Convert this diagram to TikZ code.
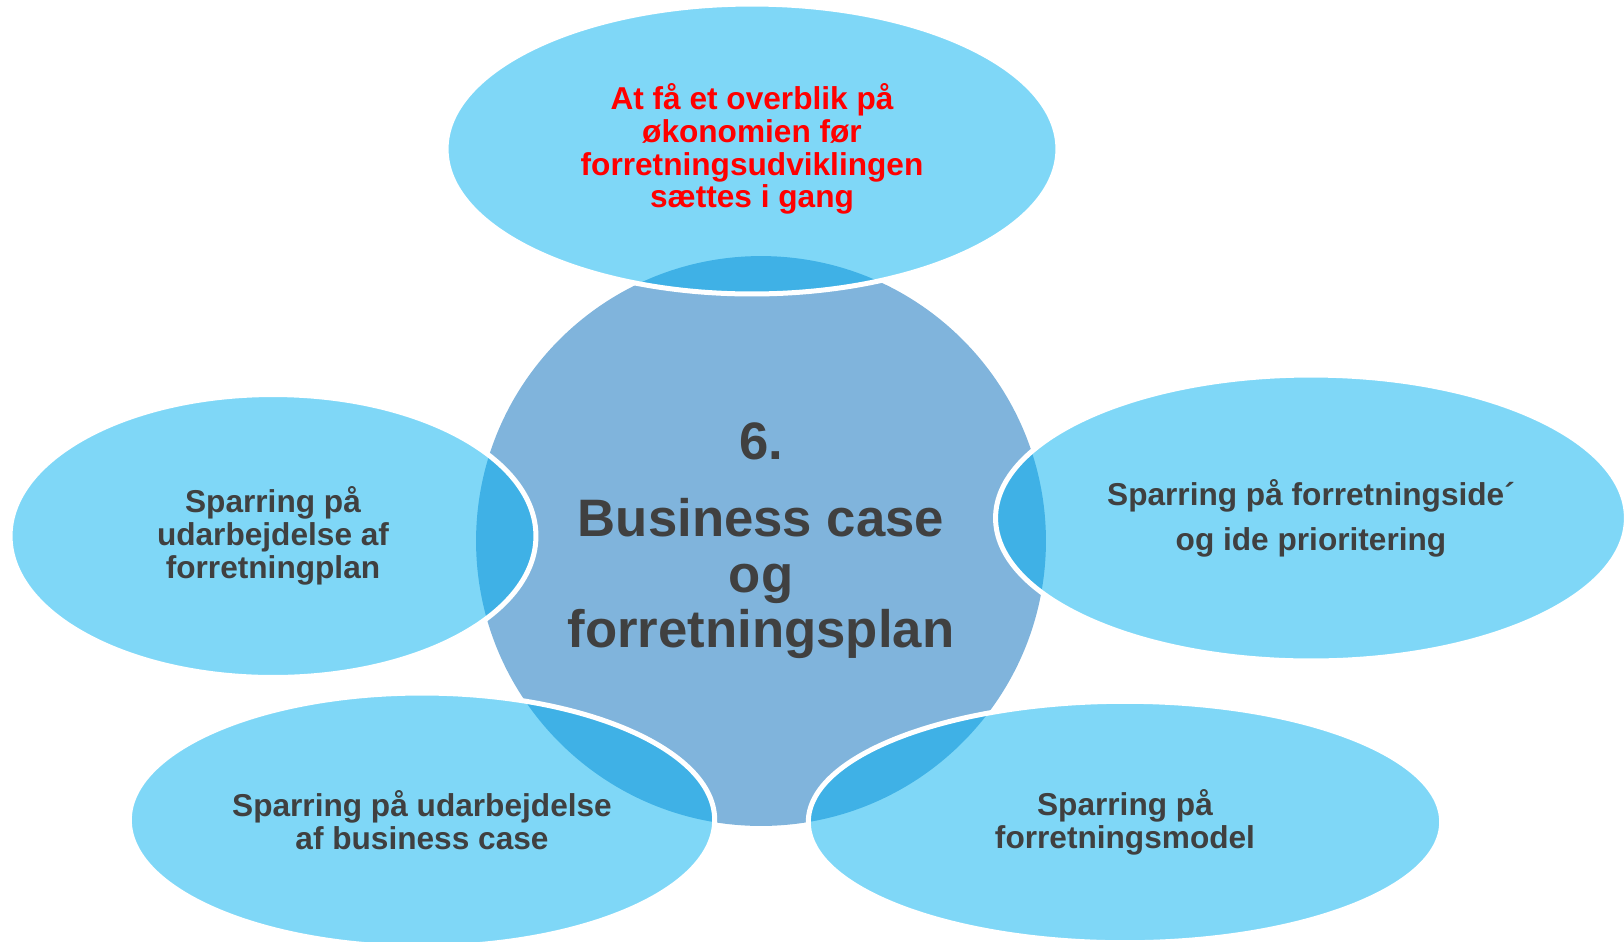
\documentclass[tikz,border=0pt]{standalone}
\usepackage{fontspec}
\setmainfont{Liberation Sans}
\usetikzlibrary{shapes.geometric}
\definecolor{hubblue}{RGB}{128,180,220}
\definecolor{petalblue}{RGB}{0,176,240}
\definecolor{darktext}{RGB}{64,64,64}
\definecolor{alertred}{RGB}{255,0,0}
\begin{document}
\begin{tikzpicture}[x=0.02cm,y=-0.02cm,
  hub/.style={circle, fill=hubblue, inner sep=0pt, minimum size=11.4cm, text=darktext, font=\fontsize{30}{31.8}\selectfont\bfseries, align=center},
  petal/.style={ellipse, fill=petalblue, fill opacity=0.5, text opacity=1, draw=white, line width=2.85pt, inner sep=0pt, text=darktext, font=\fontsize{18}{18.7}\selectfont\bfseries, align=center}]
\useasboundingbox (0,0) rectangle (1624,941);
\node[hub] (plan) at (761,541) {6.\\[11.7pt]Business case\\og\\forretningsplan};
\node[petal, minimum width=12.24cm, minimum height=5.8cm, text=alertred] (overblik) at (752,149) {At få et overblik på\\økonomien før\\forretningsudviklingen\\sættes i gang};
\node[petal, minimum width=10.52cm, minimum height=5.66cm] (forretningplan) at (273,536) {Sparring på\\udarbejdelse af\\forretningplan};
\node[petal, minimum width=12.62cm, minimum height=5.72cm] (ideer) at (1311,518) {Sparring på forretningside´\\[7pt]og ide prioritering};
\node[petal, minimum width=11.71cm, minimum height=5.08cm] (businesscase) at (422,820) {Sparring på udarbejdelse\\af business case};
\node[petal, minimum width=12.67cm, minimum height=4.83cm] (model) at (1125,822) {Sparring på\\forretningsmodel};
\end{tikzpicture}
\end{document}
